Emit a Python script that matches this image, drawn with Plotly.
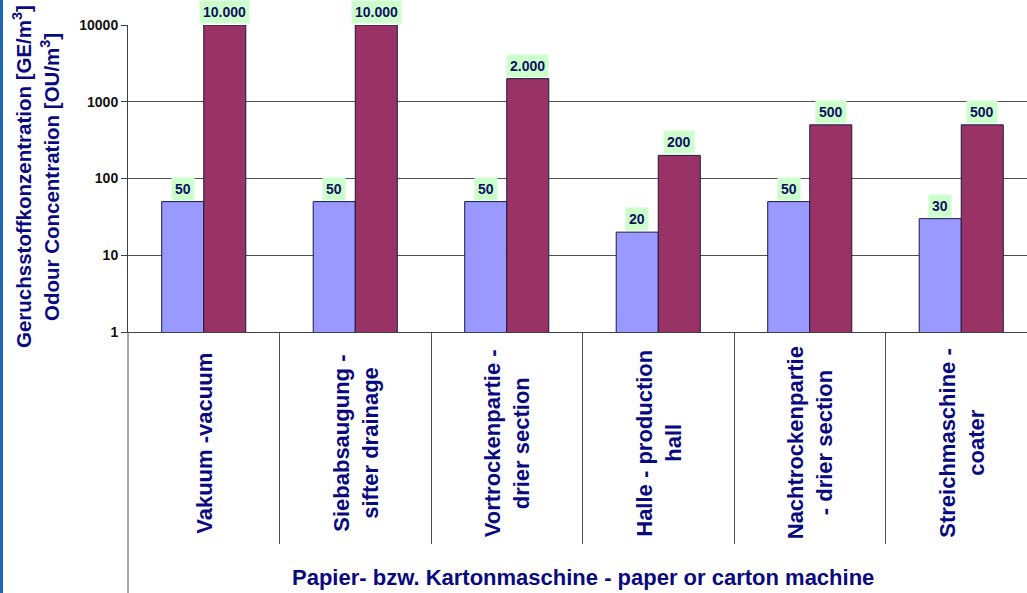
import plotly.graph_objects as go
import math

categories = ["Vakuum -vacuum", "Siebabsaugung -<br>sifter drainage", "Vortrockenpartie -<br>drier section",
              "Halle - production<br>hall", "Nachtrockenpartie<br>- drier section", "Streichmaschine -<br>coater"]
series_low = [50, 50, 50, 20, 50, 30]
series_high = [10000, 10000, 2000, 200, 500, 500]
low_labels = ["50", "50", "50", "20", "50", "30"]
high_labels = ["10.000", "10.000", "2.000", "200", "500", "500"]
y_ticks = [1, 10, 100, 1000, 10000]
y_ticktext = ["1", "10", "100", "1000", "10000"]

W, H = 1027, 593
L, R, T, B = 128, 0, 25, 261
PW = W - L - R
PH = H - T - B
FONT = "Arial, Liberation Sans, sans-serif"
NAVY = "#0a0a80"

fig = go.Figure()
xs = list(range(len(categories)))
fig.add_trace(go.Bar(x=xs, y=series_low, marker=dict(color="#9999ff", line=dict(color="#1a1a40", width=1)),
                     showlegend=False, hoverinfo="skip"))
fig.add_trace(go.Bar(x=xs, y=series_high, marker=dict(color="#993366", line=dict(color="#1a1a40", width=1)),
                     showlegend=False, hoverinfo="skip"))


def px(x):
    return (x - L) / PW


def py(y):
    return (H - B - y) / PH


off = 0.139
ann = []
for i in xs:
    for val, lab, dx in ((series_low[i], low_labels[i], -off), (series_high[i], high_labels[i], off)):
        ann.append(dict(x=i + dx, y=math.log10(val), xref="x", yref="y", text="<b>%s</b>" % lab,
                        showarrow=False, yanchor="bottom", yshift=1, bgcolor="#ccffcc", borderpad=3,
                        font=dict(family=FONT, size=14, color="#101060")))
    lines = categories[i].split("<br>")
    n = len(lines)
    for k, line in enumerate(lines):
        shift = (k - (n - 1) / 2) * 29
        ann.append(dict(x=i, y=py(443), xref="x", yref="paper", text="<b>%s</b>" % line, showarrow=False,
                        textangle=-90, yanchor="middle", xanchor="center", xshift=shift,
                        font=dict(family=FONT, size=22, color=NAVY)))

ann.append(dict(x=px(583), y=py(577), xref="paper", yref="paper",
                text="<b>Papier- bzw. Kartonmaschine - paper or carton machine</b>", showarrow=False,
                xanchor="center", yanchor="middle", font=dict(family=FONT, size=22, color=NAVY)))
ann.append(dict(x=px(22), y=py(177), xref="paper", yref="paper",
                text="<b>Geruchsstoffkonzentration [GE/m<sup>3</sup>]</b>", showarrow=False, textangle=-90,
                xanchor="center", yanchor="middle", font=dict(family=FONT, size=20.5, color=NAVY)))
ann.append(dict(x=px(50), y=py(177), xref="paper", yref="paper",
                text="<b>Odour Concentration [OU/m<sup>3</sup>]</b>", showarrow=False, textangle=-90,
                xanchor="center", yanchor="middle", font=dict(family=FONT, size=20.5, color=NAVY)))

shapes = [
    dict(type="line", xref="paper", yref="paper", x0=0, x1=0, y0=0, y1=py(593), line=dict(color="#505050", width=1)),
    dict(type="rect", xref="paper", yref="paper", x0=px(0), x1=px(3), y0=py(0), y1=py(593),
         fillcolor="#2065b8", line=dict(width=0)),
]

fig.update_layout(
    width=W, height=H, margin=dict(l=L, r=R, t=T, b=B, autoexpand=False),
    paper_bgcolor="white", plot_bgcolor="white",
    barmode="group", bargap=0.445, bargroupgap=0,
    annotations=ann, shapes=shapes,
    xaxis=dict(range=[-0.5, 5.434], showticklabels=False, ticks="outside", ticklen=211,
               tickcolor="#505050", tickwidth=1, showgrid=False, showline=True, linecolor="#404040",
               zeroline=False, tickmode="array", tickvals=[k + 0.5 for k in xs[:-1]], automargin=False),
    yaxis=dict(type="log", range=[0, 4], tickvals=y_ticks, ticktext=["<b>%s</b>" % t for t in y_ticktext],
               tickfont=dict(family=FONT, size=14, color="#111111"), ticks="outside", ticklen=6,
               tickcolor="#404040", showgrid=True, gridcolor="#505050", gridwidth=1, showline=True,
               linecolor="#404040", zeroline=False, automargin=False),
)

fig.write_html("out.html", config={"displayModeBar": False},
               post_script="document.body.style.margin='0';document.body.style.overflow='hidden';")
